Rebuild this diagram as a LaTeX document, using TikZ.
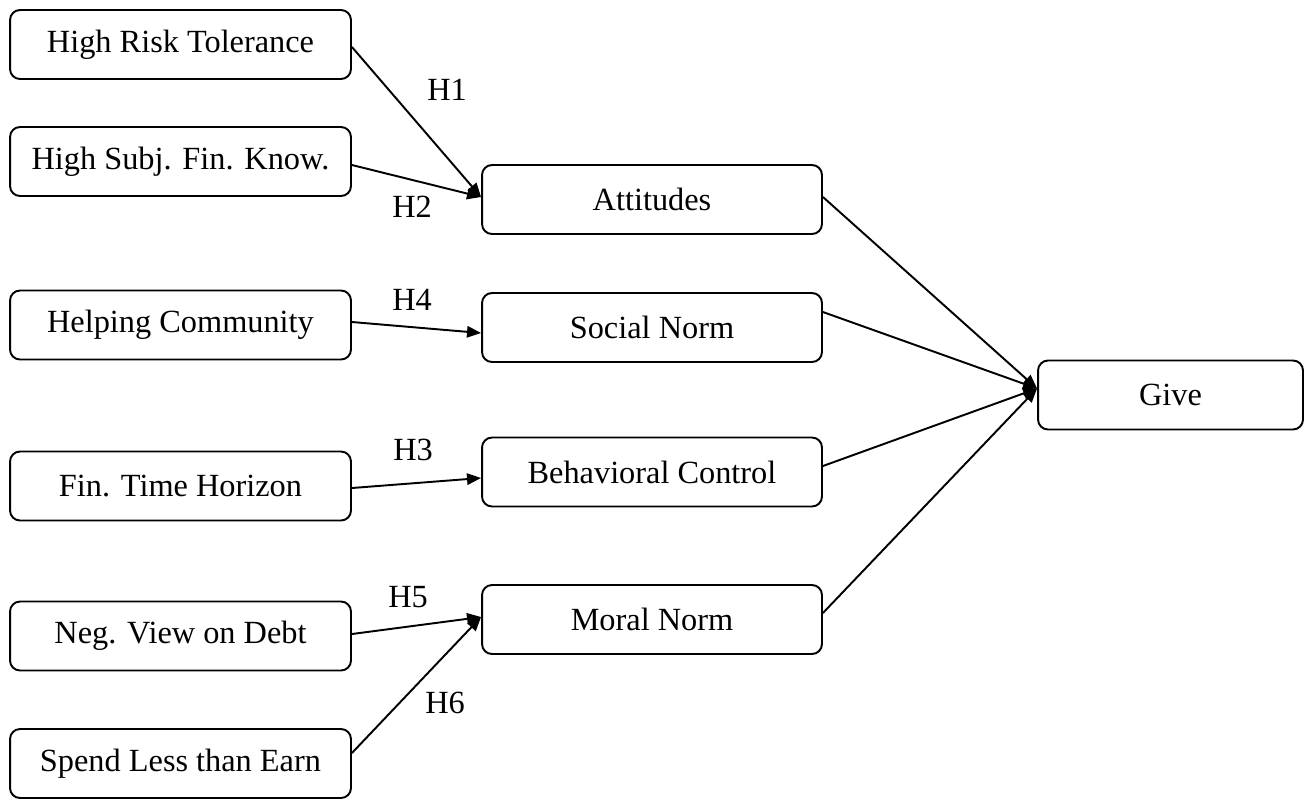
\documentclass[tikz,border=0pt]{standalone}
\usepackage{fontspec}
\setmainfont{Liberation Serif}
\usetikzlibrary{arrows.meta}
\tikzset{
	box/.style={draw, line width=1.1pt, rounded corners=0.2cm, minimum height=1.38cm, inner sep=0pt, font=\fontsize{18.4}{22}\selectfont},
	lbox/.style={box, minimum width=6.82cm},
	mbox/.style={box, minimum width=6.8cm},
	hyp/.style={font=\fontsize{18.4}{22}\selectfont},
	arr/.style={line width=1.1pt, -{Triangle[length=8pt,width=6.5pt]}}
}
\begin{document}
\begin{tikzpicture}[x=0.02cm,y=-0.02cm]
			\useasboundingbox (0,0) rectangle (1304,799);
			\node[lbox] (risk) at (180.5,44.5) {High Risk Tolerance};
			\node[lbox] (subj) at (180.5,161.5) {High Subj. Fin. Know.};
			\node[lbox] (help) at (180.5,325) {Helping Community};
			\node[lbox] (horiz) at (180.5,486) {Fin. Time Horizon};
			\node[lbox] (debt) at (180.5,636) {Neg. View on Debt};
			\node[lbox] (spend) at (180.5,763.5) {Spend Less than Earn};
			\node[mbox] (att) at (652,199.5) {Attitudes};
			\node[mbox] (soc) at (652,327.5) {Social Norm};
			\node[mbox] (beh) at (652,472) {Behavioral Control};
			\node[mbox] (mor) at (652,619.5) {Moral Norm};
			\node[box, minimum width=5.3cm] (give) at (1170.5,395) {Give};
			\draw[arr] ([yshift=-0.05cm]risk.east) -- ([yshift=0.05cm]att.west);
			\draw[arr] ([yshift=-0.07cm]subj.east) -- ([yshift=0.05cm]att.west);
			\draw[arr] ([yshift=0.06cm]help.east) -- ([yshift=-0.11cm]soc.west);
			\draw[arr] ([yshift=-0.04cm]horiz.east) -- ([yshift=-0.12cm]beh.west);
			\draw[arr] ([yshift=0.04cm]debt.east) -- ([yshift=0.05cm]mor.west);
			\draw[arr] ([yshift=0.21cm]spend.east) -- ([yshift=0.05cm]mor.west);
			\draw[arr] ([yshift=0.05cm]att.east) -- ([yshift=0.13cm]give.west);
			\draw[arr] ([yshift=0.31cm]soc.east) -- ([yshift=0.13cm]give.west);
			\draw[arr] ([yshift=0.12cm]beh.east) -- ([yshift=0.13cm]give.west);
			\draw[arr] ([yshift=0.13cm]mor.east) -- ([yshift=0.13cm]give.west);
			\node[hyp] (h1) at (447,90) {H1};
			\node[hyp] (h2) at (412,207) {H2};
			\node[hyp] (h4) at (412,300) {H4};
			\node[hyp] (h3) at (413,450) {H3};
			\node[hyp] (h5) at (408,597) {H5};
			\node[hyp] (h6) at (445,703) {H6};
		\end{tikzpicture}
\end{document}
